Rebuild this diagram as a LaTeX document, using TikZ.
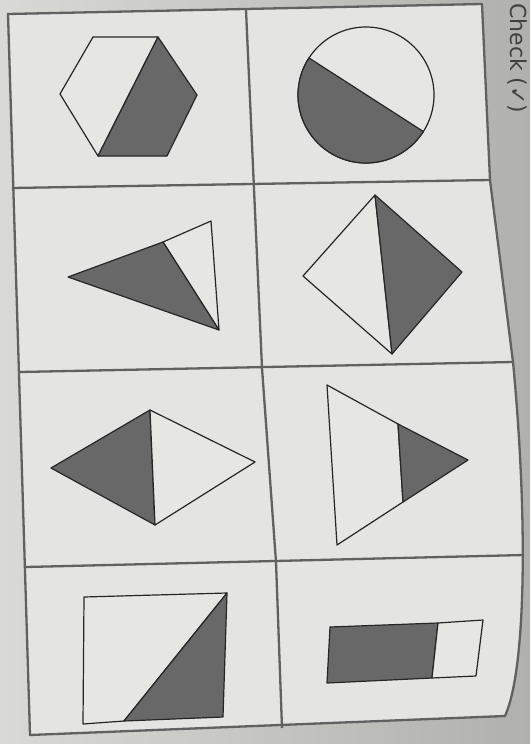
\documentclass[tikz,border=0pt]{standalone}
\usepackage{fontspec}
\setmainfont{DejaVu Sans}
\usetikzlibrary{calc}
\definecolor{paper}{HTML}{D9D9D5}
\definecolor{papershade}{HTML}{B0B0AC}
\definecolor{inkgrey}{HTML}{686868}
\definecolor{lightfill}{HTML}{E6E6E3}

\begin{document}
\begin{tikzpicture}[
  x=1pt, y=-1pt,
  gridline/.style={draw=black!62, line width=2.3pt, line join=round},
  figline/.style={draw=black!85, line width=1.2pt, line join=round},
  lightpart/.style={figline, fill=lightfill},
  darkpart/.style={figline, fill=inkgrey}
]
  % page
  \useasboundingbox (0,0) rectangle (530,744);
  \fill[left color=paper, right color=papershade] (0,0) rectangle (530,744);

  % corners of the table
  \coordinate (tl) at (8,14);
  \coordinate (tr) at (482,4);
  \coordinate (bl) at (30,735);
  \coordinate (br) at (505,716);
  \fill[paper!70!white] (tl) -- (tr) -- (490,180) -- (513,362)
    .. controls (528,520) and (526,670) .. (br) -- (bl) -- cycle;

  % grid
  \draw[gridline] (tl) -- (tr) -- (490,180) -- (513,362)
    .. controls (528,520) and (526,670) .. (br) -- (bl) -- cycle;
  \draw[gridline] (246,10) -- (262,368) -- (276,562) -- (282,728);
  \draw[gridline] (12,188) -- (490,180);
  \draw[gridline] (20,372) -- (513,362);
  \draw[gridline] (26,567) -- (524,555);

  % hexagon
  \draw[lightpart] (93,37) -- (158,37) -- (98,156) -- (60,94) -- cycle;
  \draw[darkpart] (158,37) -- (197,95) -- (167,156) -- (98,156) -- cycle;

  % circle
  \draw[lightpart] (366,95) circle[radius=68];
  \draw[darkpart] (366,95) ++(32.5:68) arc[start angle=32.5, end angle=213, radius=68] -- cycle;

  % triangle, left part shaded
  \draw[lightpart] (163,242) -- (211,221) -- (219,330) -- cycle;
  \draw[darkpart] (68,277) -- (163,242) -- (219,330) -- cycle;

  % kite
  \draw[lightpart] (375,195) -- (392,354) -- (303,276) -- cycle;
  \draw[darkpart] (375,195) -- (462,272) -- (392,354) -- cycle;

  % rhombus
  \draw[darkpart] (150,410) -- (155,525) -- (51,468) -- cycle;
  \draw[lightpart] (150,410) -- (255,462) -- (155,525) -- cycle;

  % triangle with shaded tip
  \draw[lightpart] (327,385) -- (398,424) -- (403,502) -- (337,545) -- cycle;
  \draw[darkpart] (398,424) -- (468,460) -- (403,502) -- cycle;

  % square
  \draw[lightpart] (84,597) -- (227,593) -- (124,721) -- (83,724) -- cycle;
  \draw[darkpart] (227,593) -- (223,717) -- (124,721) -- cycle;

  % rectangle
  \draw[darkpart] (330,627) -- (438,623) -- (432,678) -- (327,683) -- cycle;
  \draw[lightpart] (438,623) -- (483,620) -- (476,676) -- (432,678) -- cycle;

  % heading at the edge
  \node[rotate=-90, anchor=base west, font=\fontsize{22}{26}\selectfont, text=black!75, inner sep=0pt]
    (head) at (510,3) {Check (✓)};
\end{tikzpicture}
\end{document}
